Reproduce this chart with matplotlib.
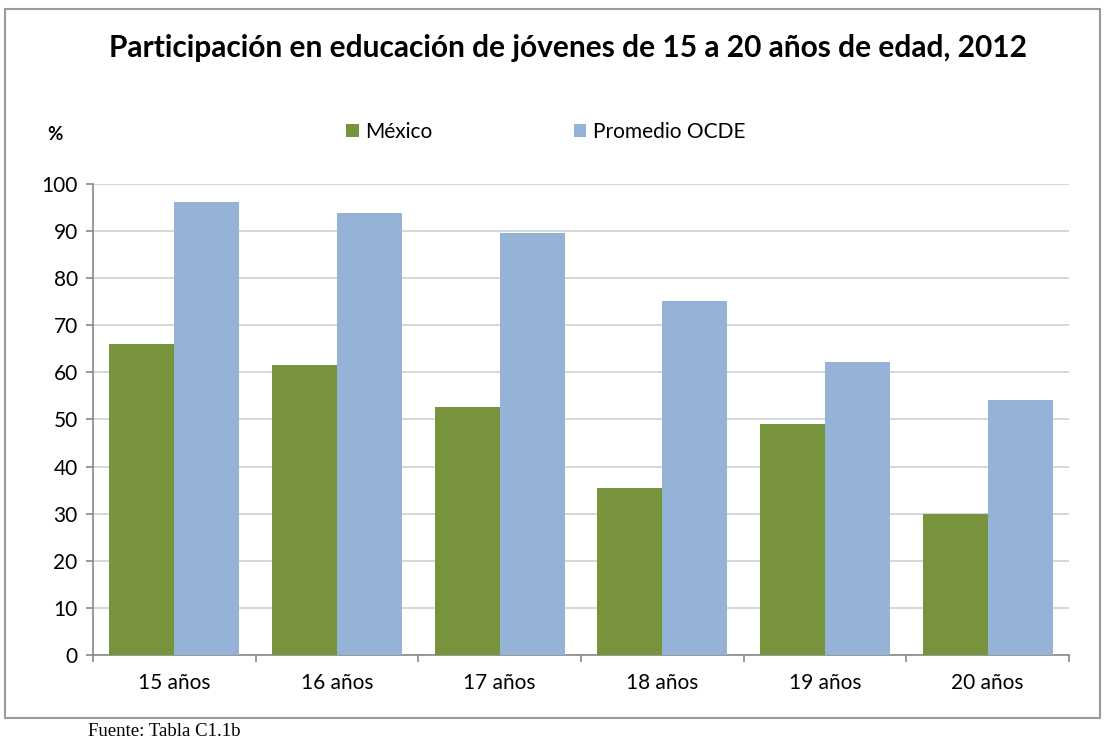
import numpy as np
import matplotlib.pyplot as plt
from matplotlib.patches import Rectangle

categories = ['15 años', '16 años', '17 años', '18 años', '19 años', '20 años']
mexico = [66.0, 61.6, 52.7, 35.5, 49.0, 29.9]
ocde = [96.2, 93.8, 89.6, 75.2, 62.2, 54.1]
yticks = list(range(0, 101, 10))

green = '#77933C'
blue = '#95B3D7'
grey = '#888888'

plt.rcParams['font.family'] = ['Lato', 'DejaVu Sans']

fig = plt.figure(figsize=(11.1, 7.46), dpi=100)
ax = fig.add_axes([0.0838, 0.122, 0.8793, 0.6314])

x = np.arange(len(categories))
w = 0.4
ax.bar(x - w / 2, mexico, w, color=green, label='México', zorder=3)
ax.bar(x + w / 2, ocde, w, color=blue, label='Promedio OCDE', zorder=3)

ax.set_xlim(-0.5, len(categories) - 0.5)
ax.set_ylim(0, 100)
ax.set_yticks(yticks)
ax.yaxis.grid(True, color='#cfcfcf', linewidth=1.2, zorder=0)
ax.set_xticks(x)
ax.set_xticklabels(categories, fontsize=15)
ax.set_xticks(np.arange(-0.5, len(categories)), minor=True)
ax.tick_params(axis='x', which='major', length=0, pad=13)
ax.tick_params(axis='x', which='minor', length=5, color=grey, width=1.2)
ax.tick_params(axis='y', length=5, color=grey, width=1.2, labelsize=15, pad=6)

for s in ['top', 'right']:
    ax.spines[s].set_visible(False)
for s in ['left', 'bottom']:
    ax.spines[s].set_color(grey)
    ax.spines[s].set_linewidth(1.2)

# outer frame
fig.patches.append(Rectangle((5 / 1110, 28 / 746), 1095 / 1110, 709 / 746,
                             transform=fig.transFigure, fill=False,
                             edgecolor='#9a9a9a', linewidth=1.5))

fig.text(0.512, 0.935, 'Participación en educación de jóvenes de 15 a 20 años de edad, 2012',
         ha='center', va='center', fontsize=21.5, fontweight='bold')
fig.text(55 / 1110, 1 - 135 / 746, '%', ha='center', va='center', fontsize=13.5,
         fontweight='bold')

ax.legend(loc='lower left', bbox_to_anchor=(0.251, 1.072), ncol=2, frameon=False,
          fontsize=15, handlelength=0.6, handleheight=0.6, handletextpad=0.3,
          columnspacing=6.8, borderaxespad=0)

fig.text(88 / 1110, 1 - 732 / 746, 'Fuente: Tabla C1.1b', ha='left', va='center',
         fontsize=13.5, family=['Liberation Serif', 'DejaVu Serif'])

fig.savefig('out.png', dpi=100)
